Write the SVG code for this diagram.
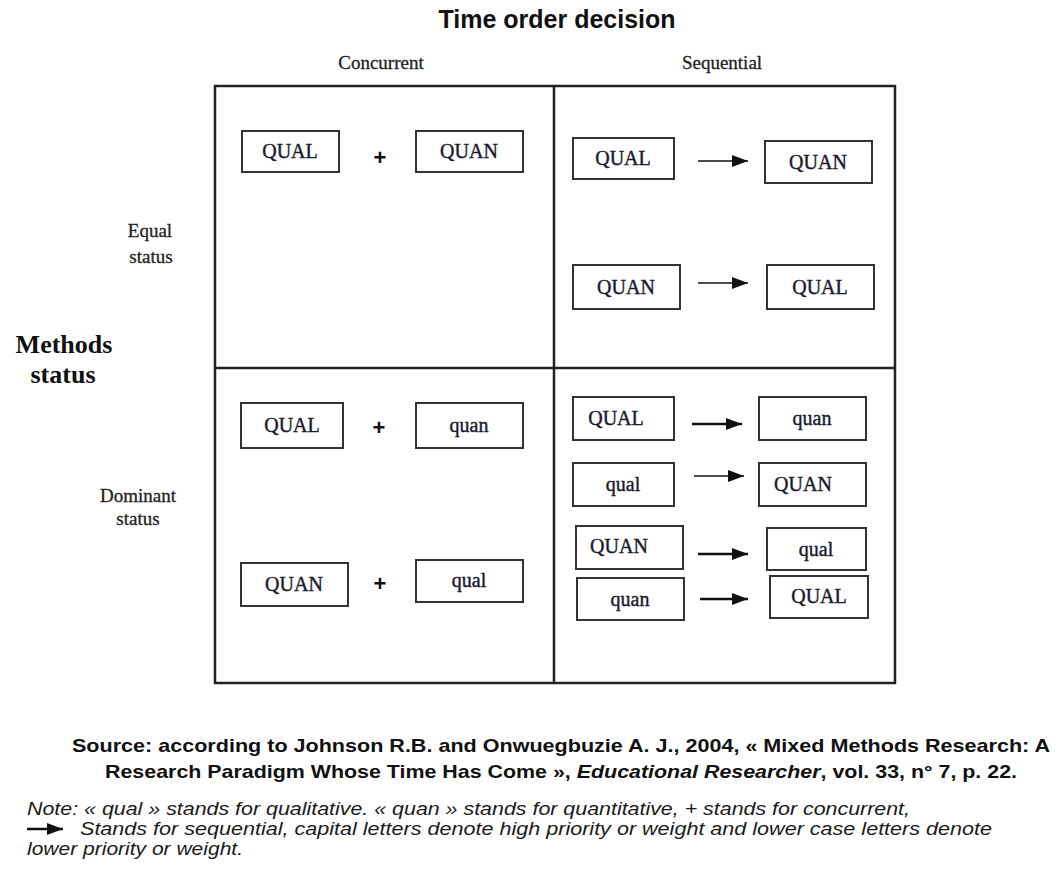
<svg xmlns="http://www.w3.org/2000/svg" width="1056" height="874" viewBox="0 0 1056 874">
<style>
.frame{fill:none;stroke:#222;stroke-width:2.5}
.box{fill:#fff;stroke:#333;stroke-width:2}
.lbl{font-family:"Liberation Serif",serif;font-size:20px;fill:#1a1a2a;stroke:#1a1a2a;stroke-width:0.4;text-anchor:middle}
.hdr{font-family:"Liberation Serif",serif;font-size:19px;fill:#222;stroke:#222;stroke-width:0.3;text-anchor:middle}
.plus{font-family:"Liberation Sans",sans-serif;font-size:22px;font-weight:bold;fill:#111;text-anchor:middle}
.title{font-family:"Liberation Sans",sans-serif;font-size:25px;font-weight:bold;fill:#111;text-anchor:middle}
.side{font-family:"Liberation Serif",serif;font-size:26px;font-weight:bold;fill:#111;text-anchor:middle}
.src{font-family:"Liberation Sans",sans-serif;font-size:19px;font-weight:bold;fill:#111;text-anchor:middle}
.note{font-family:"Liberation Sans",sans-serif;font-size:19px;font-style:italic;fill:#1a1a1a}
.arr{stroke:#111;stroke-width:1.6;fill:none}
.arrb{stroke:#111;stroke-width:2.6;fill:none}
</style>
<defs>
<marker id="ah" markerUnits="userSpaceOnUse" markerWidth="18" markerHeight="14" refX="16" refY="7" orient="auto">
<path d="M0,1 L16,7 L0,13 Z" fill="#111"/>
</marker>
</defs>
<rect width="1056" height="874" fill="#fff"/>

<g id="title">
<text class="title" x="557" y="28">Time order decision</text>
<text class="hdr" x="381" y="69">Concurrent</text>
<text class="hdr" x="722" y="69">Sequential</text>
<text class="side" x="64" y="353">Methods</text>
<text class="side" x="63" y="383">status</text>
<text class="hdr" x="150" y="237">Equal</text>
<text class="hdr" x="151" y="263">status</text>
<text class="hdr" x="138" y="502">Dominant</text>
<text class="hdr" x="138" y="525">status</text>
</g>

<g id="grid">
<rect class="frame" x="215" y="86" width="680" height="597"/>
<line class="frame" x1="554" y1="86" x2="554" y2="683"/>
<line class="frame" x1="215" y1="368" x2="895" y2="368"/>
</g>

<g id="n-eq-conc-qual"><rect class="box" x="242" y="131" width="97" height="41"/><text class="lbl" x="290" y="158">QUAL</text></g>
<g id="n-eq-conc-quan"><rect class="box" x="416" y="131" width="107" height="41"/><text class="lbl" x="469" y="158">QUAN</text></g>
<g id="n-eq-seq1-qual"><rect class="box" x="573" y="138" width="101" height="41"/><text class="lbl" x="623" y="165">QUAL</text></g>
<g id="n-eq-seq1-quan"><rect class="box" x="765" y="141" width="107" height="42"/><text class="lbl" x="818" y="169">QUAN</text></g>
<g id="n-eq-seq2-quan"><rect class="box" x="573" y="265" width="107" height="44"/><text class="lbl" x="626" y="294">QUAN</text></g>
<g id="n-eq-seq2-qual"><rect class="box" x="767" y="265" width="107" height="44"/><text class="lbl" x="820" y="294">QUAL</text></g>

<g id="n-dom-conc1-qual"><rect class="box" x="241" y="403" width="102" height="45"/><text class="lbl" x="292" y="432">QUAL</text></g>
<g id="n-dom-conc1-quan"><rect class="box" x="416" y="403" width="107" height="45"/><text class="lbl" x="469" y="432">quan</text></g>
<g id="n-dom-conc2-quan"><rect class="box" x="241" y="563" width="107" height="43"/><text class="lbl" x="294" y="591">QUAN</text></g>
<g id="n-dom-conc2-qual"><rect class="box" x="416" y="560" width="107" height="42"/><text class="lbl" x="469" y="587">qual</text></g>

<g id="n-dom-seq1-qual"><rect class="box" x="573" y="397" width="101" height="43"/><text class="lbl" x="616" y="425">QUAL</text></g>
<g id="n-dom-seq1-quan"><rect class="box" x="759" y="397" width="107" height="43"/><text class="lbl" x="812" y="425">quan</text></g>
<g id="n-dom-seq2-qual"><rect class="box" x="573" y="463" width="101" height="43"/><text class="lbl" x="623" y="491">qual</text></g>
<g id="n-dom-seq2-quan"><rect class="box" x="759" y="463" width="107" height="43"/><text class="lbl" x="803" y="491">QUAN</text></g>
<g id="n-dom-seq3-quan"><rect class="box" x="576" y="526" width="107" height="43"/><text class="lbl" x="619" y="553">QUAN</text></g>
<g id="n-dom-seq3-qual"><rect class="box" x="767" y="528" width="99" height="42"/><text class="lbl" x="816" y="556">qual</text></g>
<g id="n-dom-seq4-quan"><rect class="box" x="577" y="578" width="107" height="42"/><text class="lbl" x="630" y="606">quan</text></g>
<g id="n-dom-seq4-qual"><rect class="box" x="770" y="576" width="98" height="42"/><text class="lbl" x="819" y="603">QUAL</text></g>

<g id="connectors">
<text class="plus" x="380" y="165">+</text>
<text class="plus" x="379" y="435">+</text>
<text class="plus" x="380" y="591">+</text>
<line class="arr" x1="698" y1="161" x2="748" y2="161" marker-end="url(#ah)"/>
<line class="arr" x1="698" y1="283" x2="748" y2="283" marker-end="url(#ah)"/>
<line class="arrb" x1="692" y1="424" x2="742" y2="424" marker-end="url(#ah)"/>
<line class="arr" x1="694" y1="476" x2="744" y2="476" marker-end="url(#ah)"/>
<line class="arrb" x1="698" y1="554" x2="748" y2="554" marker-end="url(#ah)"/>
<line class="arrb" x1="700" y1="599" x2="748" y2="599" marker-end="url(#ah)"/>
</g>

<g id="footer">
<text class="src" x="561" y="752" textLength="978" lengthAdjust="spacingAndGlyphs">Source: according to Johnson R.B.  and Onwuegbuzie A. J., 2004, « Mixed Methods Research: A</text>
<text class="src" x="561" y="778" textLength="912" lengthAdjust="spacingAndGlyphs">Research Paradigm Whose Time Has Come », <tspan font-style="italic">Educational Researcher</tspan>, vol. 33, n° 7, p. 22.</text>
<text class="note" x="27" y="815" textLength="883" lengthAdjust="spacingAndGlyphs">Note: « qual » stands for qualitative. « quan » stands for quantitative, +  stands for concurrent,</text>
<line class="arrb" x1="27" y1="829" x2="63" y2="829" marker-end="url(#ah)"/>
<text class="note" x="80" y="835" textLength="912" lengthAdjust="spacingAndGlyphs">Stands for sequential, capital letters denote high priority or weight and lower case letters denote</text>
<text class="note" x="27" y="855" textLength="216" lengthAdjust="spacingAndGlyphs">lower priority or weight.</text>
</g>
</svg>
